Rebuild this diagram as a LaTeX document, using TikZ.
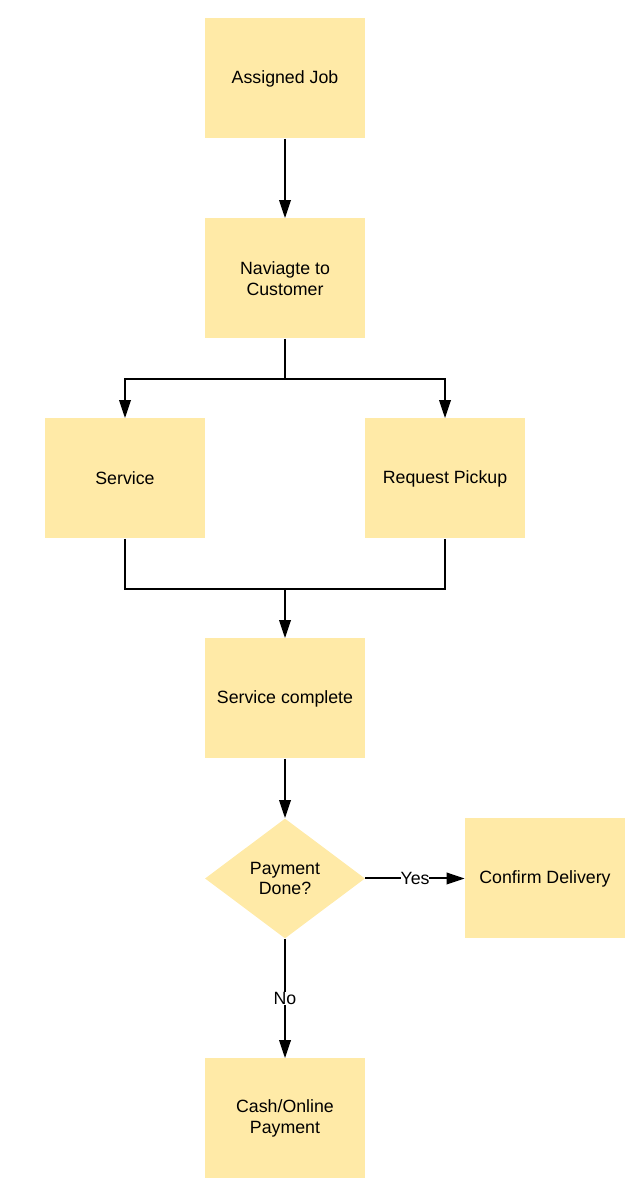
\documentclass[tikz,border=0pt]{standalone}
\usepackage{fontspec}
\setmainfont{Liberation Sans}
\usetikzlibrary{shapes, arrows.meta}
\definecolor{boxfill}{HTML}{FFEAA7}

\begin{document}
\begin{tikzpicture}[
	jobbox/.style={fill=boxfill, minimum width=3.2cm, minimum height=2.4cm, inner sep=0pt, align=center, font=\fontsize{10.1}{11.9}\selectfont},
	choice/.style={diamond, fill=boxfill, aspect=1.333, minimum width=3.2cm, minimum height=2.4cm, inner sep=0pt, align=center, font=\fontsize{10.1}{11.9}\selectfont},
	link/.style={line width=0.04cm},
	flow/.style={line width=0.04cm, -{Triangle[length=0.36cm, width=0.23cm]}},
	tag/.style={fill=white, inner sep=0pt, font=\fontsize{10.1}{11.9}\selectfont}
]
	\useasboundingbox (0,0) rectangle (12.64,24);
	% Boxes
	\node[jobbox] (assigned) at (5.7,22.43) {Assigned Job};
	\node[jobbox] (navigate) at (5.7,18.43) {Naviagte to\\Customer};
	\node[jobbox] (service) at (2.5,14.43) {Service};
	\node[jobbox] (pickup) at (8.9,14.43) {Request Pickup};
	\node[jobbox] (complete) at (5.7,10.03) {Service complete};
	\node[choice] (payment) at (5.7,6.43) {Payment\\Done?};
	\node[jobbox] (confirm) at (10.9,6.43) {Confirm Delivery};
	\node[jobbox] (cash) at (5.7,1.63) {Cash/Online\\Payment};
	% Branch points
	\coordinate (split) at (5.7,16.42);
	\coordinate (join) at (5.7,12.22);
	% Connectors
	\draw[flow] (assigned) -- (navigate);
	\draw[link] (navigate.south) -- (split);
	\draw[flow] (split) -| (service.north);
	\draw[flow] (split) -| (pickup.north);
	\draw[link] (service.south) |- (join) -| (pickup.south);
	\draw[flow] (join) -- (complete.north);
	\draw[flow] (complete) -- (payment);
	\draw[flow] (payment.east) -- node[tag] (yes) {Yes} (confirm.west);
	\draw[flow] (payment.south) -- node[tag] (no) {No} (cash.north);
\end{tikzpicture}
\end{document}
